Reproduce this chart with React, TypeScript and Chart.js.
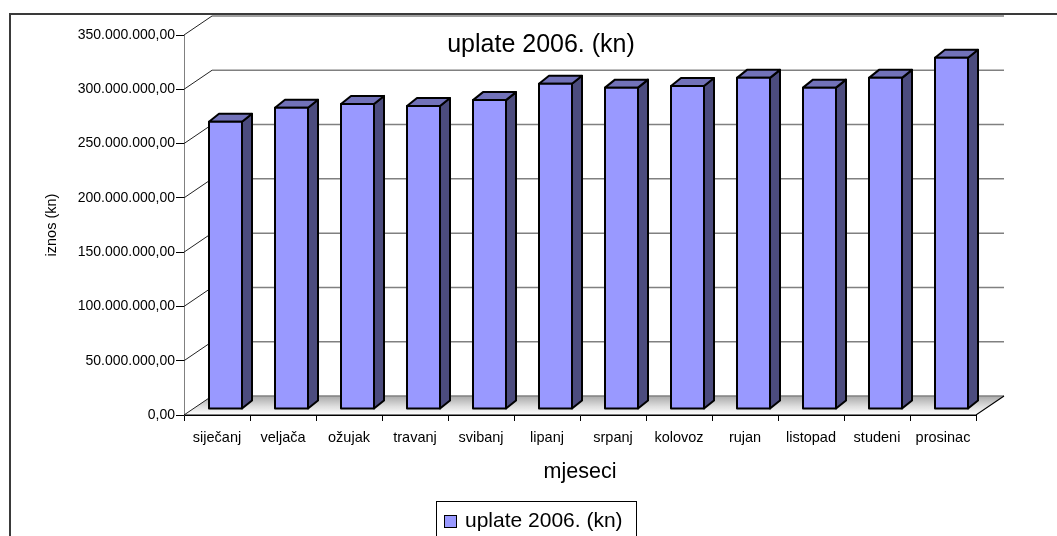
import React, { useEffect, useRef } from 'react';
import { Chart, registerables } from 'chart.js';

Chart.register(...registerables);

// ---- data ----
const CATEGORIES = ['siječanj', 'veljača', 'ožujak', 'travanj', 'svibanj', 'lipanj', 'srpanj', 'kolovoz', 'rujan', 'listopad', 'studeni', 'prosinac'];
const UPLATE_2006 = [264500000, 277500000, 281000000, 279000000, 284500000, 299500000, 296000000, 297500000, 305000000, 296000000, 305000000, 323500000];
const SERIES_LABEL = 'uplate 2006. (kn)';
const CHART_TITLE = 'uplate 2006. (kn)';
const X_TITLE = 'mjeseci';
const Y_TITLE = 'iznos (kn)';
const Y_MIN = 0;
const Y_MAX = 350000000;
const Y_STEP = 50000000;

// ---- styles ----
const FONT = '"Liberation Sans", Arial, Helvetica, sans-serif';
const CANVAS_W = 1075;
const CANVAS_H = 560;
const FRONT = '#9999FF';
const SIDE = '#4C4C7E';
const TOP = '#7272B9';
const WALL_DX = 28;
const WALL_DY = -19;
const BAR_OX = 8.5;
const BAR_OY = -6;
const BAR_DX = 10;
const BAR_DY = -8;

function formatKn(v: number): string {
  const s = Math.round(v).toString().replace(/\B(?=(\d{3})+(?!\d))/g, '.');
  return s + ',00';
}

const depthPlugin = {
  id: 'depth3d',
  beforeDraw(chart: any) {
    const { ctx } = chart;
    ctx.save();
    ctx.strokeStyle = '#3a3a3a';
    ctx.lineWidth = 2;
    ctx.strokeRect(10, 14, CANVAS_W - 20, CANVAS_H - 20);
    ctx.restore();
  },
  beforeDatasetsDraw(chart: any) {
    const { ctx, chartArea, scales } = chart;
    const ys = scales.y;
    const left = chartArea.left;
    const right = chartArea.right;
    const base = ys.getPixelForValue(Y_MIN);
    ctx.save();
    // floor
    const grad = ctx.createLinearGradient(0, base + WALL_DY, 0, base);
    grad.addColorStop(0, '#a9a9a9');
    grad.addColorStop(0.55, '#dedede');
    grad.addColorStop(1, '#ffffff');
    ctx.beginPath();
    ctx.moveTo(left, base);
    ctx.lineTo(right, base);
    ctx.lineTo(right + WALL_DX, base + WALL_DY);
    ctx.lineTo(left + WALL_DX, base + WALL_DY);
    ctx.closePath();
    ctx.fillStyle = grad;
    ctx.fill();
    // back wall gridlines + side diagonals
    ys.ticks.forEach((t: any) => {
      const py = ys.getPixelForValue(t.value);
      ctx.strokeStyle = '#808080';
      ctx.lineWidth = 1.5;
      ctx.beginPath();
      ctx.moveTo(left + WALL_DX, py + WALL_DY);
      ctx.lineTo(right + WALL_DX, py + WALL_DY);
      ctx.stroke();
      ctx.strokeStyle = '#222';
      ctx.lineWidth = 1;
      ctx.beginPath();
      ctx.moveTo(left, py);
      ctx.lineTo(left + WALL_DX, py + WALL_DY);
      ctx.stroke();
    });
    // floor edges
    ctx.strokeStyle = '#000';
    ctx.lineWidth = 1.2;
    ctx.beginPath();
    ctx.moveTo(left, base);
    ctx.lineTo(right, base);
    ctx.lineTo(right + WALL_DX, base + WALL_DY);
    ctx.stroke();
    ctx.restore();
  },
  beforeDatasetDraw() {
    return false;
  },
  afterDatasetsDraw(chart: any) {
    const { ctx } = chart;
    const meta = chart.getDatasetMeta(0);
    const color = chart.data.datasets[0].backgroundColor;
    ctx.save();
    ctx.lineWidth = 2;
    ctx.strokeStyle = '#000';
    ctx.lineJoin = 'round';
    meta.data.forEach((el: any) => {
      const p = el.getProps(['x', 'y', 'base', 'width'], true);
      const l = p.x - p.width / 2 + BAR_OX;
      const r = p.x + p.width / 2 + BAR_OX;
      const t = p.y + BAR_OY;
      const b = p.base + BAR_OY;
      // side
      ctx.beginPath();
      ctx.moveTo(r, t);
      ctx.lineTo(r + BAR_DX, t + BAR_DY);
      ctx.lineTo(r + BAR_DX, b + BAR_DY);
      ctx.lineTo(r, b);
      ctx.closePath();
      ctx.fillStyle = SIDE;
      ctx.fill();
      ctx.stroke();
      // top
      ctx.beginPath();
      ctx.moveTo(l, t);
      ctx.lineTo(l + BAR_DX, t + BAR_DY);
      ctx.lineTo(r + BAR_DX, t + BAR_DY);
      ctx.lineTo(r, t);
      ctx.closePath();
      ctx.fillStyle = TOP;
      ctx.fill();
      ctx.stroke();
      // front
      ctx.beginPath();
      ctx.rect(l, t, r - l, b - t);
      ctx.fillStyle = color;
      ctx.fill();
      ctx.stroke();
    });
    ctx.restore();
  },
  afterDraw(chart: any) {
    const { ctx } = chart;
    ctx.save();
    // title
    ctx.fillStyle = '#000';
    ctx.font = `25px ${FONT}`;
    ctx.textAlign = 'center';
    ctx.textBaseline = 'middle';
    ctx.fillText(CHART_TITLE, 541, 45);
    // legend
    const ds = chart.data.datasets[0];
    ctx.strokeStyle = '#000';
    ctx.lineWidth = 1;
    ctx.strokeRect(436.5, 501.5, 200, 40);
    ctx.fillStyle = ds.backgroundColor;
    ctx.fillRect(444.5, 515.5, 12, 12);
    ctx.strokeRect(444.5, 515.5, 12, 12);
    ctx.fillStyle = '#000';
    ctx.font = `21px ${FONT}`;
    ctx.textAlign = 'left';
    ctx.fillText(ds.label, 465, 521);
    ctx.restore();
  },
};

export default function App() {
  const ref = useRef<HTMLCanvasElement | null>(null);

  useEffect(() => {
    if (!ref.current) return;
    const chart = new Chart(ref.current, {
      type: 'bar',
      data: {
        labels: CATEGORIES,
        datasets: [
          {
            label: SERIES_LABEL,
            data: UPLATE_2006,
            backgroundColor: FRONT,
            borderWidth: 0,
            categoryPercentage: 1,
            barPercentage: 0.5,
          },
        ],
      },
      options: {
        responsive: false,
        animation: false,
        events: [],
        devicePixelRatio: 1,
        layout: { padding: { left: 43, top: 35, right: 99, bottom: 75 } },
        font: { family: FONT },
        plugins: {
          legend: { display: false },
          title: { display: false },
          tooltip: { enabled: false },
        },
        scales: {
          x: {
            ticks: { font: { size: 14.5, family: FONT }, color: '#000', padding: 8, maxRotation: 0, autoSkip: false },
            grid: { drawOnChartArea: false, drawTicks: true, tickLength: 6, tickColor: '#000', offset: true },
            border: { display: true, color: '#000' },
            title: { display: true, text: X_TITLE, font: { size: 21.5, family: FONT }, color: '#000', padding: 0 },
            afterFit: (s: any) => {
              s.height = 70;
            },
          },
          y: {
            min: Y_MIN,
            max: Y_MAX,
            ticks: {
              stepSize: Y_STEP,
              callback: (v: any) => formatKn(Number(v)),
              font: { size: 14, family: FONT },
              color: '#000',
              padding: 1,
            },
            grid: { drawOnChartArea: false, drawTicks: true, tickLength: 8, tickColor: '#000' },
            border: { display: true, color: '#808080' },
            title: { display: true, text: Y_TITLE, font: { size: 14.5, family: FONT }, color: '#000', padding: 0 },
            afterFit: (s: any) => {
              s.width = 141;
            },
          },
        },
      },
      plugins: [depthPlugin],
    } as any);
    return () => chart.destroy();
  }, []);

  return (
    <div style={{ position: 'fixed', left: 0, top: 0, width: CANVAS_W, height: CANVAS_H, background: '#fff' }}>
      <canvas ref={ref} width={CANVAS_W} height={CANVAS_H} style={{ display: 'block', width: CANVAS_W, height: CANVAS_H }} />
    </div>
  );
}
